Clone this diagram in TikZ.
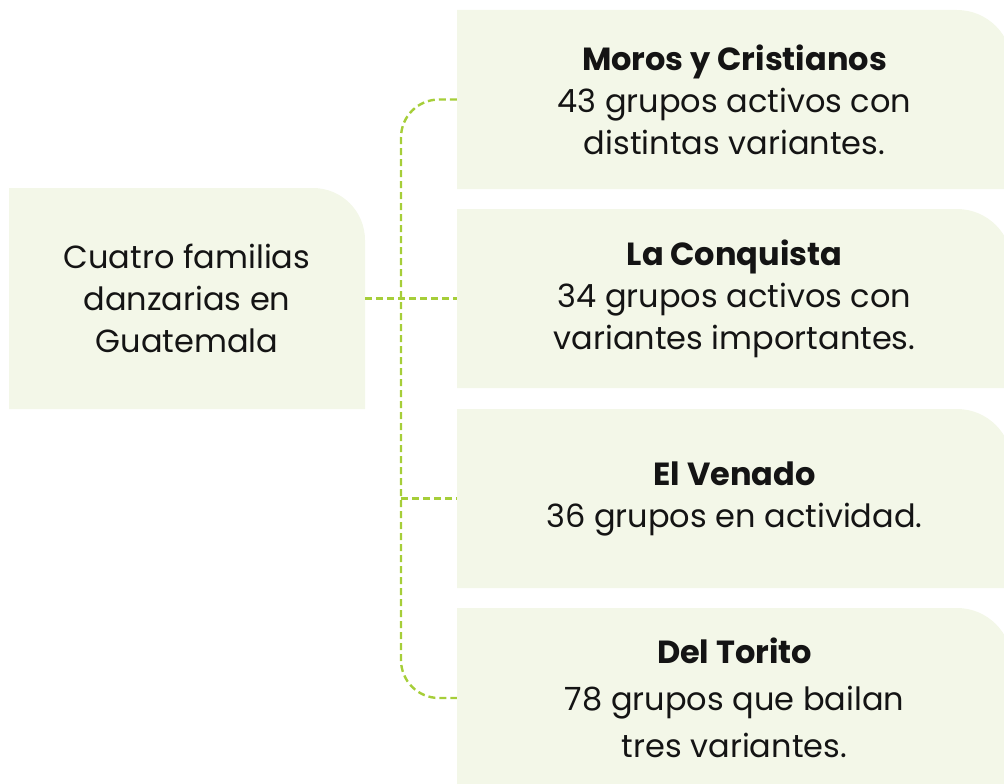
\documentclass[tikz,border=0pt]{standalone}
\usepackage{fontspec}
\setmainfont{Poppins}
\usetikzlibrary{positioning}
\definecolor{boxgreen}{RGB}{243,247,232}
\definecolor{linegreen}{RGB}{166,206,57}
\definecolor{inkblack}{RGB}{20,20,20}
\tikzset{
  cornerbox/.style={shape=rectangle, inner sep=0pt, align=center, text=inkblack,
    font=\fontsize{32}{42}\selectfont,
    path picture={\fill[boxgreen] (path picture bounding box.south west)
      -- (path picture bounding box.north west)
      -- ([xshift=-#1]path picture bounding box.north east)
      arc[start angle=90, end angle=0, radius=#1]
      -- (path picture bounding box.south east) -- cycle;}},
  rootbox/.style={cornerbox=52pt, minimum width=356pt, minimum height=221pt},
  leafbox/.style={cornerbox=55pt, minimum width=555pt, minimum height=179pt},
  branch/.style={draw=linegreen, line width=2.4pt, dash pattern=on 7pt off 4pt}
}
\begin{document}
\begin{tikzpicture}[x=1pt, y=1pt]
  \useasboundingbox (0,0) rectangle (1004,-784);
  \clip (0,0) rectangle (1004,-784);

  % Root
  \node[rootbox] (familias) at (187,-298.5) {Cuatro familias\\danzarias en\\Guatemala};

  % Families
  \node[leafbox] (moros) at (734.5,-99.5) {\textbf{Moros y Cristianos}\\43 grupos activos con\\distintas variantes.};
  \node[leafbox] (conquista) at (734.5,-298.5) {\textbf{La Conquista}\\34 grupos activos con\\variantes importantes.};
  \node[leafbox] (venado) at (734.5,-498.5) {\textbf{El Venado}\\36 grupos en actividad.};
  \node[leafbox, minimum height=180pt, font=\fontsize{32}{47}\selectfont] (torito) at (734.5,-698) {\textbf{Del Torito}\\78 grupos que bailan\\tres variantes.};

  % Connectors
  \coordinate (trunk) at (401,-298.5);
  \draw[branch] (familias.east) -- (conquista.west);
  \draw[branch, rounded corners=38pt] (moros.west) -| (trunk) |- (torito.west);
  \draw[branch] (trunk |- venado.west) -- (venado.west);
\end{tikzpicture}
\end{document}
